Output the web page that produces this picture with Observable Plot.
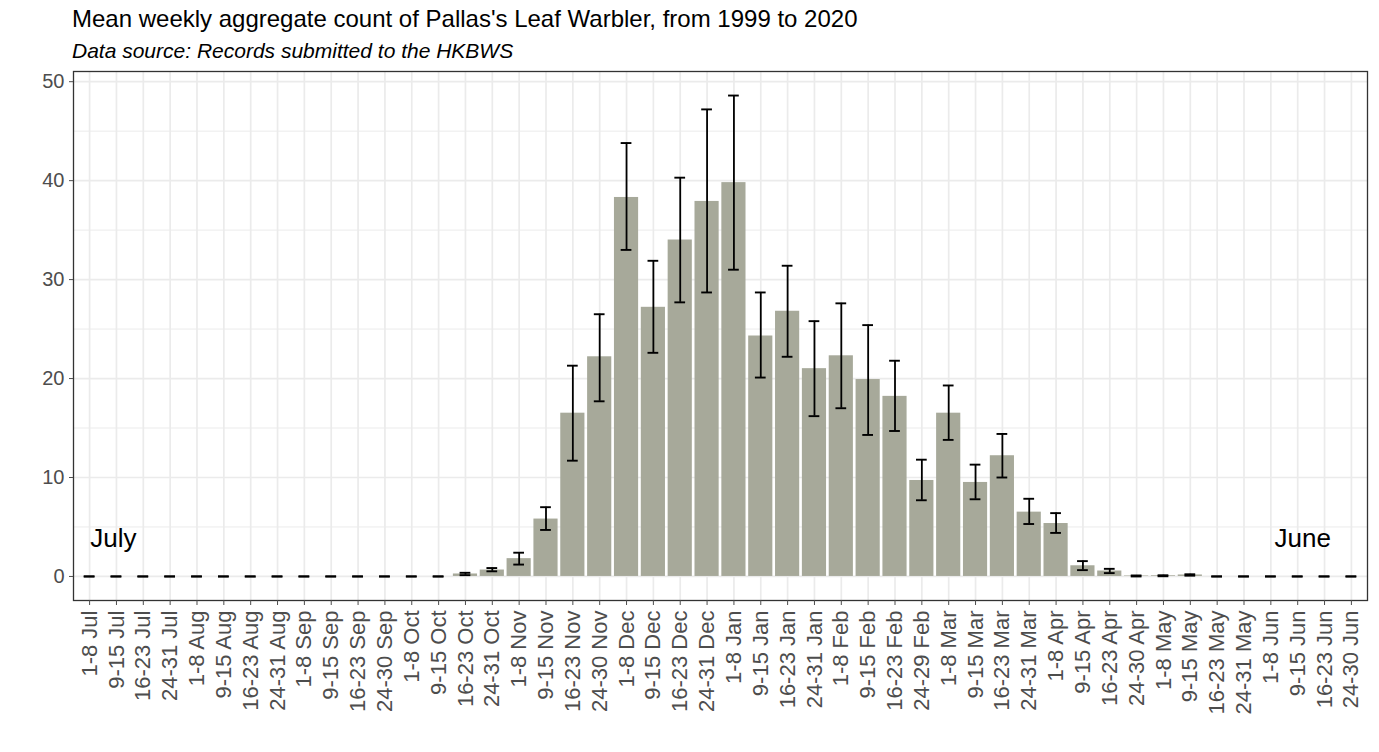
<!DOCTYPE html>
<html>
<head>
<meta charset="utf-8">
<script src="https://cdn.jsdelivr.net/npm/d3@7"></script>
<script src="https://cdn.jsdelivr.net/npm/@observablehq/plot@0.6"></script>
<style>
  html, body { margin: 0; padding: 0; background: #fff; }
  body { width: 1379px; height: 752px; position: relative; overflow: hidden; font-family: "Liberation Sans", Arial, sans-serif; }
  #title { position: absolute; left: 72px; top: 7px; font-size: 24px; line-height: 1; color: #000; white-space: nowrap; }
  #subtitle { position: absolute; left: 72px; top: 40px; font-size: 21px; line-height: 1; font-style: italic; color: #000; white-space: nowrap; }
  #chart { position: absolute; left: 0; top: 64px; }
</style>
</head>
<body>
<div id="title">Mean weekly aggregate count of Pallas's Leaf Warbler, from 1999 to 2020</div>
<div id="subtitle">Data source: Records submitted to the HKBWS</div>
<div id="chart"></div>
<script>
const weeks = [
  "1-8 Jul","9-15 Jul","16-23 Jul","24-31 Jul",
  "1-8 Aug","9-15 Aug","16-23 Aug","24-31 Aug",
  "1-8 Sep","9-15 Sep","16-23 Sep","24-30 Sep",
  "1-8 Oct","9-15 Oct","16-23 Oct","24-31 Oct",
  "1-8 Nov","9-15 Nov","16-23 Nov","24-30 Nov",
  "1-8 Dec","9-15 Dec","16-23 Dec","24-31 Dec",
  "1-8 Jan","9-15 Jan","16-23 Jan","24-31 Jan",
  "1-8 Feb","9-15 Feb","16-23 Feb","24-29 Feb",
  "1-8 Mar","9-15 Mar","16-23 Mar","24-31 Mar",
  "1-8 Apr","9-15 Apr","16-23 Apr","24-30 Apr",
  "1-8 May","9-15 May","16-23 May","24-31 May",
  "1-8 Jun","9-15 Jun","16-23 Jun","24-30 Jun"
];
const meanCount = [
  0,0,0,0, 0,0,0,0, 0,0,0,0, 0,0,0.25,0.65,
  1.8,5.8,16.5,22.2, 38.3,27.2,34.0,37.9, 39.8,24.3,26.8,21.0,
  22.3,19.9,18.2,9.7, 16.5,9.5,12.2,6.5, 5.35,1.08,0.55,0.05,
  0.07,0.15,0,0, 0,0,0,0
];
const lowerCount = [
  0,0,0,0, 0,0,0,0, 0,0,0,0, 0,0,0.13,0.52,
  1.2,4.7,11.7,17.7, 33.0,22.6,27.7,28.7, 31.0,20.1,22.2,16.2,
  17.0,14.3,14.7,7.7, 13.8,7.8,10.0,5.3, 4.4,0.64,0.34,0.0,
  0.02,0.08,0,0, 0,0,0,0
];
const upperCount = [
  0,0,0,0, 0,0,0,0, 0,0,0,0, 0,0,0.37,0.85,
  2.4,7.0,21.3,26.5, 43.8,31.9,40.3,47.2, 48.6,28.7,31.4,25.8,
  27.6,25.4,21.8,11.8, 19.3,11.3,14.4,7.85, 6.4,1.55,0.77,0.1,
  0.12,0.22,0,0, 0,0,0,0
];
const yTicks = [0, 10, 20, 30, 40, 50];
const yMinor = [5, 15, 25, 35, 45];
const julyLabel = [{week: "9-15 Jul", y: 3.8, label: "July"}];
const juneLabel = [{week: "9-15 Jun", y: 3.8, label: "June"}];

const data = weeks.map((w, i) => ({week: w, mean: meanCount[i], lo: lowerCount[i], hi: upperCount[i]}));
const yMax = d3.max(upperCount);
const pad = yMax * 0.05;

const step = 1294 / 48.2;
const capInset = (step * 0.9 - step * 0.4) / 2;

const chart = Plot.plot({
  width: 1379,
  height: 688,
  marginLeft: 73,
  marginRight: 12,
  marginTop: 7,
  marginBottom: 152,
  style: {fontFamily: "'Liberation Sans', Arial, sans-serif", background: "#fff"},
  x: {domain: weeks, paddingInner: 0.1, paddingOuter: 0.15, label: null},
  y: {domain: [-pad, yMax + pad], label: null},
  marks: [
    Plot.gridY(yMinor, {stroke: "#ebebeb", strokeOpacity: 1, strokeWidth: 1}),
    Plot.gridY(yTicks, {stroke: "#ebebeb", strokeOpacity: 1, strokeWidth: 1.7}),
    Plot.gridX(weeks, {stroke: "#ebebeb", strokeOpacity: 1, strokeWidth: 1.7}),
    Plot.barY(data, {x: "week", y: "mean", fill: "#a7a99a"}),
    Plot.ruleX(data, {x: "week", y1: "lo", y2: "hi", stroke: "#000", strokeWidth: 1.8}),
    Plot.tickY(data, {x: "week", y: "lo", stroke: "#000", strokeWidth: 1.9, insetLeft: capInset, insetRight: capInset}),
    Plot.tickY(data, {x: "week", y: "hi", stroke: "#000", strokeWidth: 1.9, insetLeft: capInset, insetRight: capInset}),
    Plot.text(julyLabel, {x: "week", y: "y", text: "label", dx: -3, fontSize: 26, fill: "#000", textAnchor: "middle"}),
    Plot.text(juneLabel, {x: "week", y: "y", text: "label", dx: 5, fontSize: 26, fill: "#000", textAnchor: "middle"}),
    Plot.frame({stroke: "#333", strokeWidth: 1.3}),
    Plot.axisY(yTicks, {tickSize: 4, tickPadding: 5, fontSize: 20, color: "#4d4d4d", label: null}),
    Plot.axisX(weeks, {tickSize: 5, tickPadding: 5, tickRotate: -90, fontSize: 22, color: "#4d4d4d", label: null})
  ]
});
document.getElementById("chart").appendChild(chart);
</script>
</body>
</html>
